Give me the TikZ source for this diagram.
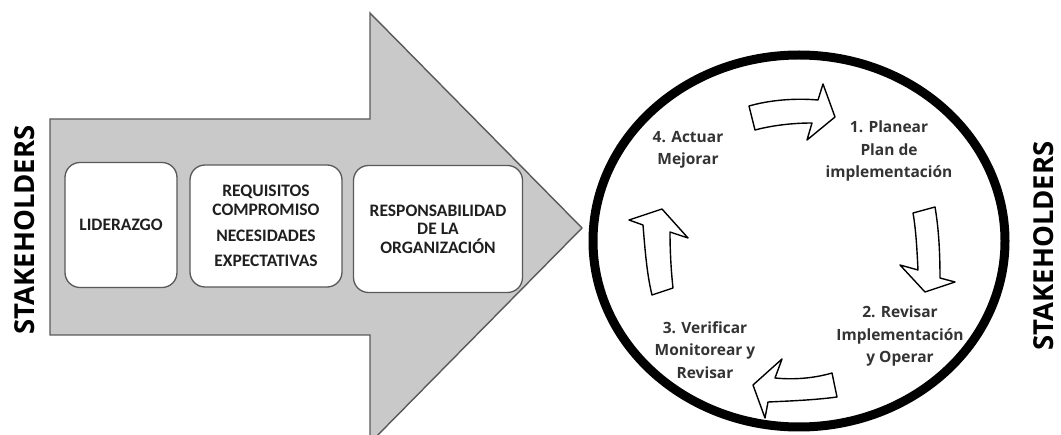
\documentclass[tikz,border=0pt]{standalone}
\usepackage{fontspec}
\setmainfont{Open Sans}
\newfontfamily\calfont{Carlito}
\begin{document}
\begin{tikzpicture}[x=1pt,y=-1pt,
  bigarrow/.style={fill=black!21,draw=black!65,line width=1.4pt,line join=miter},
  inbox/.style={draw=black!65,fill=white,line width=1.3pt,rounded corners=15pt,inner sep=0pt,align=center,
    font=\calfont\bfseries\fontsize{17.5}{19.5}\selectfont,text=black!88},
  ctext/.style={align=center,font=\bfseries\fontsize{15.5}{22.5}\selectfont,text=black!80},
  stake/.style={rotate=90,inner sep=0pt,font=\bfseries\fontsize{27.5}{30}\selectfont,text=black},
  cyc/.style={draw=black,line width=1.4pt,fill=white,line join=round},
  ring/.style={draw=black,line width=9pt}]
\useasboundingbox (0,0) rectangle (1061,435);
\begin{scope}
\clip (0,0) rectangle (1061,435);
\draw[bigarrow] (50,119) -- (370,119) -- (370,13) -- (582,228) -- (370,443) -- (370,335) -- (50,335) -- cycle;
\draw[ring] (799,241) ellipse [x radius=206,y radius=186];
\end{scope}
% boxes
\node[inbox,minimum width=112pt,minimum height=125pt] (b1) at (121,225) {LIDERAZGO};
\node[inbox,minimum width=152pt,minimum height=122pt] (b2) at (266,226) {REQUISITOS\\COMPROMISO\\[6pt]NECESIDADES\\[6pt]EXPECTATIVAS};
\node[inbox,minimum width=169pt,minimum height=127pt] (b3) at (438,229) {RESPONSABILIDAD\\[-1pt]DE LA\\[-1pt]ORGANIZACIÓN};
% stakeholders
\node[stake] (s1) at (25,230) {STAKEHOLDERS};
\node[stake] (s2) at (1044,246) {STAKEHOLDERS};
% cycle texts
\node[ctext] (t4) at (688,150) {4. Actuar\\Mejorar};
\node[ctext] (t1) at (889,151) {1. Planear\\Plan de\\implementación};
\node[ctext] (t2) at (900,336) {2. Revisar\\Implementación\\y Operar};
\node[ctext] (t3) at (705,350) {3. Verificar\\Monitorear y\\Revisar};
% cycle arrows
\draw[cyc] (749,106) .. controls (770,100) and (795,98) .. (818,100) -- (823,84) -- (835,117) -- (807,140) -- (812,123) .. controls (790,123) and (770,126) .. (755,130) -- cycle;
\draw[cyc] (913,213) -- (935,207) .. controls (939,230) and (940,255) .. (940,278) -- (955,282) -- (925,292) -- (900,265) -- (918,270) .. controls (917,250) and (916,230) .. (913,213) -- cycle;
\draw[cyc] (832,373) -- (837,397) .. controls (815,400) and (790,401) .. (768,402) -- (765,418) -- (753,385) -- (782,359) -- (775,378) .. controls (795,380) and (815,378) .. (832,373) -- cycle;
\draw[cyc] (652,295) -- (673,288) .. controls (671,270) and (670,250) .. (670,232) -- (688,238) -- (662,209) -- (629,220) -- (643,225) .. controls (645,250) and (647,275) .. (652,295) -- cycle;
\end{tikzpicture}
\end{document}
